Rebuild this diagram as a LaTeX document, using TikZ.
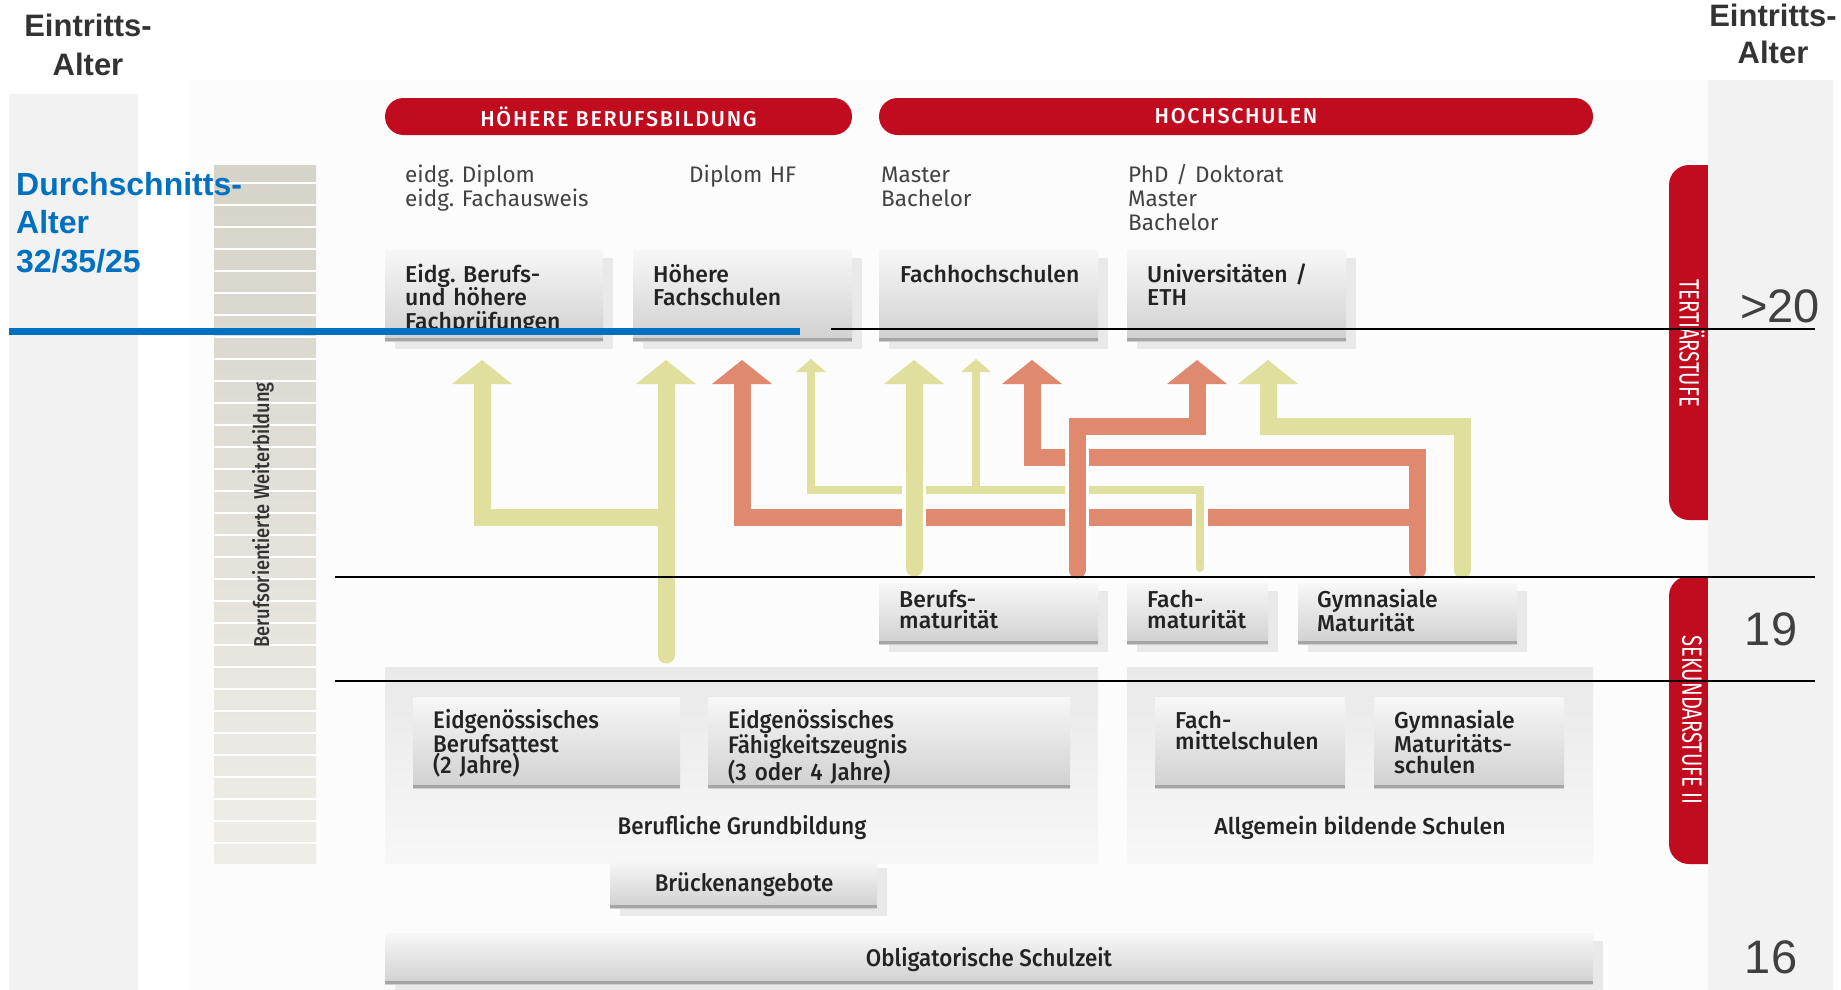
\documentclass[tikz,border=0pt]{standalone}
\usepackage{fontspec}
\setmainfont{Fira Sans}
\newfontfamily\arialfont{Liberation Sans}
\newfontfamily\dinreg{Fira Sans}
\newfontfamily\dinmed{Fira Sans Medium}
\newfontfamily\dincaps{Fira Sans Medium}[LetterSpace=8]
\newfontfamily\dincond{Fira Sans Medium}[FakeStretch=0.93]
\newfontfamily\dinslim{Fira Sans Medium}[FakeStretch=0.85]
\newfontfamily\dinnarrow{Fira Sans}[FakeStretch=0.72]
\usetikzlibrary{shadows}
\frenchspacing

\definecolor{redbar}{RGB}{192,12,30}
\definecolor{yel}{RGB}{224,224,158}
\definecolor{ora}{RGB}{223,138,110}
\definecolor{blueline}{RGB}{0,112,192}
\definecolor{agegray}{RGB}{242,242,242}
\definecolor{panelbg}{RGB}{252,252,252}
\definecolor{inkdark}{RGB}{51,51,51}
\definecolor{inknum}{RGB}{64,64,64}
\definecolor{inkbox}{RGB}{35,35,35}
\definecolor{inkdeg}{RGB}{66,66,66}
\definecolor{boxtop}{RGB}{247,247,247}
\definecolor{boxbot}{RGB}{208,208,208}
\definecolor{boxedge}{RGB}{165,165,165}
\definecolor{shadowgray}{RGB}{233,233,233}
\definecolor{grouptop}{RGB}{233,233,233}
\definecolor{groupbot}{RGB}{247,247,247}
\definecolor{wbtop}{RGB}{214,211,200}
\definecolor{wbbot}{RGB}{238,237,232}

\newcommand\fs[2]{\fontsize{#1}{#2}\selectfont}
% bottom edge of a box node
\newcommand\boxfoot[1]{\fill[boxedge] ([yshift=3pt]#1.south west) rectangle (#1.south east);}
% filled arrow heads pointing up, tip at the given coordinate
\newcommand\bighead[2]{\fill[#2] (#1) ++(-30,24) -- ++(30,-24) -- ++(30,24) -- cycle;}
\newcommand\smallhead[2]{\fill[#2] (#1) ++(-15,13) -- ++(15,-13) -- ++(15,13) -- cycle;}

\begin{document}
\begin{tikzpicture}[x=1pt,y=-1pt,
  box/.style={inner sep=0, anchor=north west, top color=boxtop, bottom color=boxbot},
  shadowed/.style={drop shadow={shadow xshift=10pt, shadow yshift=-8pt, fill=shadowgray, opacity=1}},
  group/.style={inner sep=0, anchor=north west, top color=grouptop, bottom color=groupbot},
  boxtext/.style={anchor=base west, inner sep=0, text width=380, align=left, text=inkbox},
  degtext/.style={anchor=base west, inner sep=0, text width=300, align=left, text=inkdeg, font=\dinreg\fs{22.5}{24}},
  redpill/.style={fill=redbar, inner sep=0, text=white, font=\dincaps\fs{21.5}{22}},
  thickarrow/.style={line width=17, line cap=round},
  thinarrow/.style={line width=8, line cap=round},
  rule/.style={black, line width=2},
  agetext/.style={inner sep=0, text width=220, align=center, text=inkdark, font=\arialfont\bfseries\fs{31}{39}},
  agenum/.style={anchor=base, inner sep=0, text=inknum, font=\arialfont\fs{47}{50}}
]
\useasboundingbox (0,0) rectangle (1841,990);

% ---------- backgrounds ----------
\fill[panelbg] (190,80) rectangle (1708,990);
\fill[agegray] (9,94) rectangle (138,990);

% ---------- column: Berufsorientierte Weiterbildung ----------
\shade[top color=wbtop, bottom color=wbbot] (214,165) rectangle (316,863);
\foreach \k in {0,...,30}
  \draw[white, line width=1.4] (214,{183+22*\k}) -- (316,{183+22*\k});
\node[rotate=90, inner sep=0, text=inkdark, font=\dinslim\fs{21.5}{22}] (wb) at (263,515) {Berufsorientierte Weiterbildung};

% ---------- tertiary level ----------
\node[redpill, minimum width=467, minimum height=37, rounded corners=18.5] (hbb) at (618.5,116.5) {HÖHERE BERUFSBILDUNG};
\node[redpill, minimum width=714, minimum height=37, rounded corners=18.5] (hs) at (1236,116.5) {HOCHSCHULEN};

\node[degtext] (d1) at (405,182) {eidg. Diplom\\eidg. Fachausweis};
\node[degtext] (d2) at (689,182) {Diplom HF};
\node[degtext] (d3) at (881,182) {Master\\Bachelor};
\node[degtext] (d4) at (1128,182) {PhD / Doktorat\\Master\\Bachelor};

\node[box, shadowed, minimum width=218, minimum height=91] (ebf) at (385,250) {};
\node[box, shadowed, minimum width=219, minimum height=91] (hf)  at (633,250) {};
\node[box, shadowed, minimum width=219, minimum height=91] (fh)  at (879,250) {};
\node[box, shadowed, minimum width=219, minimum height=91] (uni) at (1127,250) {};
\boxfoot{ebf}\boxfoot{hf}\boxfoot{fh}\boxfoot{uni}
\node[boxtext, font=\dinmed\fs{23}{23.5}] at ([xshift=20pt,yshift=-32pt]ebf.north west) {Eidg. Berufs-\\und höhere\\Fachprüfungen};
\node[boxtext, font=\dinmed\fs{23}{23.5}] at ([xshift=20pt,yshift=-32pt]hf.north west) {Höhere\\Fachschulen};
\node[boxtext, font=\dinmed\fs{23}{23.5}] at ([xshift=21pt,yshift=-32pt]fh.north west) {Fachhochschulen};
\node[boxtext, font=\dinmed\fs{23}{23.5}] at ([xshift=20pt,yshift=-32pt]uni.north west) {Universitäten /\\ETH};

% ---------- pathways ----------
\coordinate (tA) at (482,360);  \coordinate (tB) at (666,360);
\coordinate (tC) at (742,360);  \coordinate (tD) at (811,359);
\coordinate (tE) at (914,360);  \coordinate (tF) at (976,359);
\coordinate (tG) at (1032,360); \coordinate (tH) at (1197,360);
\coordinate (tI) at (1268,360);

% vocational trunk and its branch
\draw[thickarrow, yel] (666,655) -- (666,380);
\draw[thickarrow, yel] (666,517) -- (482,517) -- (482,380);
% routes from the Gymnasiale Maturität towards the professional schools
\draw[thickarrow, ora] (1417,570) -- (1417,457) -- (1032,457) -- (1032,380);
\draw[thickarrow, ora] (1417,517) -- (742,517) -- (742,380);
% thin route from the Fachmaturität
\draw[white, line width=16] (1199.5,566) -- (1199.5,498);
\draw[thinarrow, yel] (1199.5,568) -- (1199.5,489.5) -- (811,489.5) -- (811,370);
\draw[thinarrow, yel] (976,489.5) -- (976,370);
% Berufsmaturität to Fachhochschulen
\draw[white, line width=24] (914,560) -- (914,470);
\draw[thickarrow, yel] (914,568) -- (914,380);
% crossing route to the universities
\draw[white, line width=24] (1077,560) -- (1077,440);
\draw[thickarrow, ora] (1077,570) -- (1077,426) -- (1197,426) -- (1197,380);
% Gymnasiale Maturität to the universities
\draw[thickarrow, yel] (1462,570) -- (1462,426) -- (1268,426) -- (1268,380);

\bighead{tA}{yel}\bighead{tB}{yel}\bighead{tC}{ora}\smallhead{tD}{yel}
\bighead{tE}{yel}\smallhead{tF}{yel}\bighead{tG}{ora}\bighead{tH}{ora}
\bighead{tI}{yel}

% ---------- secondary level II ----------
\node[box, shadowed, minimum width=219, minimum height=61] (bm) at (879,583) {};
\node[box, shadowed, minimum width=141, minimum height=61] (fm) at (1127,583) {};
\node[box, shadowed, minimum width=219, minimum height=61] (gm) at (1298,583) {};
\boxfoot{bm}\boxfoot{fm}\boxfoot{gm}
\node[boxtext, font=\dinmed\fs{23}{21.5}] at ([xshift=20pt,yshift=-24pt]bm.north west) {Berufs-\\maturität};
\node[boxtext, font=\dinmed\fs{23}{21.5}] at ([xshift=20pt,yshift=-24pt]fm.north west) {Fach-\\maturität};
\node[boxtext, font=\dinmed\fs{23}{21.5}] at ([xshift=19pt,yshift=-24pt]gm.north west) {Gymnasiale\\Maturität};

\node[group, minimum width=713, minimum height=196] (bg) at (385,667) {};
\node[group, minimum width=466, minimum height=196] (abs) at (1127,667) {};

\node[box, minimum width=267, minimum height=91] (eba) at (413,697) {};
\node[box, minimum width=362, minimum height=91] (efz) at (708,697) {};
\node[box, minimum width=190, minimum height=91] (fms) at (1155,697) {};
\node[box, minimum width=190, minimum height=91] (gms) at (1374,697) {};
\boxfoot{eba}\boxfoot{efz}\boxfoot{fms}\boxfoot{gms}
\node[boxtext, font=\dincond\fs{24}{21.5}] at ([xshift=20pt,yshift=-31pt]eba.north west) {Eidgenössisches\\Berufsattest\\(2 Jahre)};
\node[boxtext, font=\dincond\fs{24}{21.5}] at ([xshift=20pt,yshift=-31pt]efz.north west) {Eidgenössisches\\Fähigkeitszeugnis\\(3 oder 4 Jahre)};
\node[boxtext, font=\dinmed\fs{23}{21.5}] at ([xshift=20pt,yshift=-31pt]fms.north west) {Fach-\\mittelschulen};
\node[boxtext, font=\dinmed\fs{23}{21.5}] at ([xshift=20pt,yshift=-31pt]gms.north west) {Gymnasiale\\Maturitäts-\\schulen};

\node[anchor=base, inner sep=0, text=inkbox, font=\dincond\fs{24}{24}] at (742,834) {Berufliche Grundbildung};
\node[anchor=base, inner sep=0, text=inkbox, font=\dinmed\fs{23}{23}] at (1360,834) {Allgemein bildende Schulen};

\node[box, shadowed, minimum width=267, minimum height=48] (bru) at (610,860) {};
\boxfoot{bru}
\node[anchor=base, inner sep=0, text=inkbox, font=\dincond\fs{24}{24}] at (744,891) {Brückenangebote};

\node[box, shadowed, minimum width=1208, minimum height=51] (obl) at (385,933) {};
\boxfoot{obl}
\node[anchor=base, inner sep=0, text=inkbox, font=\dincond\fs{24}{24}] at (989,966) {Obligatorische Schulzeit};

% ---------- level markers on the right ----------
\fill[redbar, rounded corners=20] (1669,165) rectangle (1740,520);
\fill[redbar, rounded corners=20] (1669,576) rectangle (1740,864);
\node[rotate=-90, inner sep=0, text=white, font=\dinnarrow\fs{28}{28}] (tert) at (1692,343) {TERTIÄRSTUFE};
\node[rotate=-90, inner sep=0, text=white, font=\dinnarrow\fs{28}{28}] (sek) at (1692,720) {SEKUNDARSTUFE II};
\fill[agegray] (1708,80) rectangle (1833,990);

% ---------- age rules ----------
\draw[rule] (831,329) -- (1815,329);
\draw[rule] (335,577) -- (1815,577);
\draw[rule] (335,681) -- (1815,681);
\draw[blueline, line width=7] (9,331.5) -- (800,331.5);

% ---------- age labels ----------
\node[agetext, anchor=base] (eal) at (88,37) {Eintritts-\\Alter};
\node[agetext, anchor=base, font=\arialfont\bfseries\fs{31}{37}] (ear) at (1773,27) {Eintritts-\\Alter};
\node[anchor=base west, inner sep=0, text width=320, align=left, text=blueline, font=\arialfont\bfseries\fs{32}{38.5}] (avg) at (16,195) {Durchschnitts-\\Alter\\32/35/25};
\node[agenum] (a20) at (1780,322) {>20};
\node[agenum] (a19) at (1771,645) {19};
\node[agenum] (a16) at (1771,973) {16};
\end{tikzpicture}
\end{document}
